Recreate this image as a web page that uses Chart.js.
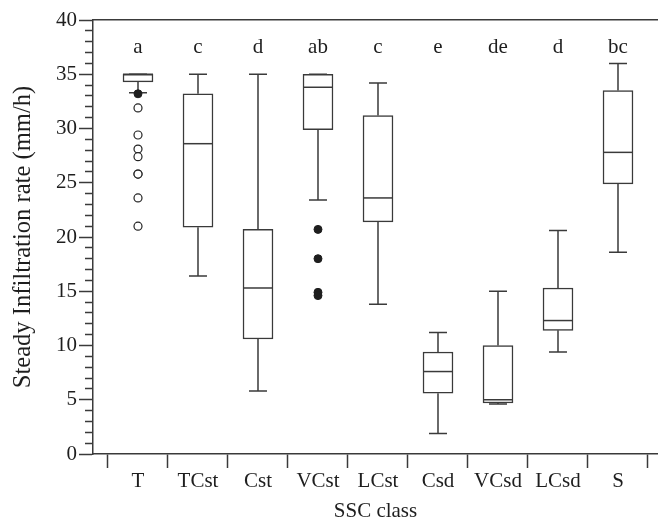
<!DOCTYPE html>
<html lang="en">

<head>
    <meta charset="UTF-8">
    <title>Steady infiltration rate by SSC class</title>
    <script src="https://cdn.jsdelivr.net/npm/chart.js"></script>
    <style>
        html, body { margin: 0; padding: 0; background: #fff; overflow: hidden; }
    </style>
</head>

<body>
    <canvas id="boxChart" width="658" height="521"></canvas>

    <script>
        // SSC classes along the x axis
        const categories = ['T', 'TCst', 'Cst', 'VCst', 'LCst', 'Csd', 'VCsd', 'LCsd', 'S'];

        // Box plot statistics (mm/h)
        const whiskerLow = [33.3, 16.4, 5.8, 23.4, 13.8, 1.9, 4.6, 9.4, 18.6];
        const q1 = [34.3, 20.9, 10.6, 29.9, 21.4, 5.6, 4.7, 11.4, 24.9];
        const median = [35.0, 28.6, 15.3, 33.8, 23.6, 7.6, 5.0, 12.3, 27.8];
        const q3 = [35.0, 33.2, 20.7, 35.0, 31.2, 9.4, 10.0, 15.3, 33.5];
        const whiskerHigh = [35.0, 35.0, 35.0, 35.0, 34.2, 11.2, 15.0, 20.6, 36.0];

        // Significance letters above each box
        const groupLetters = ['a', 'c', 'd', 'ab', 'c', 'e', 'de', 'd', 'bc'];

        // Outliers (open = outlier, filled = extreme)
        const tOutliersOpen = [31.9, 29.4, 28.1, 27.4, 25.8, 25.8, 23.6, 21.0];
        const tOutliersFilled = [33.2];
        const vcstOutliersFilled = [20.7, 18.0, 14.9, 14.6];

        // y axis ticks: every 1 mm/h, labelled every 5
        const yTicks = Array.from({ length: 41 }, (_, i) => i);

        const lineColor = '#3a3a3a';
        const textColor = '#1e1e1e';
        const serif = 'Liberation Serif';

        function pointsFor(cls, values) {
            const idx = categories.indexOf(cls);
            return values.map(v => ({ x: idx, y: v }));
        }

        // Whiskers, caps, medians and letters drawn against the chart scales
        const boxExtras = {
            id: 'boxExtras',
            beforeDatasetsDraw(chart) {
                const { ctx, scales: { x, y } } = chart;
                ctx.save();
                ctx.strokeStyle = lineColor;
                ctx.lineWidth = 1.5;
                categories.forEach((c, i) => {
                    const px = x.getPixelForValue(i);
                    ctx.beginPath();
                    ctx.moveTo(px, y.getPixelForValue(q3[i]));
                    ctx.lineTo(px, y.getPixelForValue(whiskerHigh[i]));
                    ctx.moveTo(px, y.getPixelForValue(q1[i]));
                    ctx.lineTo(px, y.getPixelForValue(whiskerLow[i]));
                    [whiskerHigh[i], whiskerLow[i]].forEach(v => {
                        const py = y.getPixelForValue(v);
                        ctx.moveTo(px - 9, py);
                        ctx.lineTo(px + 9, py);
                    });
                    ctx.stroke();
                });
                ctx.restore();
            },
            afterDatasetsDraw(chart) {
                const { ctx, scales: { x, y } } = chart;
                ctx.save();
                ctx.strokeStyle = lineColor;
                ctx.lineWidth = 1.5;
                categories.forEach((c, i) => {
                    const px = x.getPixelForValue(i);
                    const py = y.getPixelForValue(median[i]);
                    ctx.beginPath();
                    ctx.moveTo(px - 15, py);
                    ctx.lineTo(px + 15, py);
                    ctx.stroke();
                });
                ctx.fillStyle = textColor;
                ctx.font = '21px "' + serif + '"';
                ctx.textAlign = 'center';
                ctx.textBaseline = 'middle';
                groupLetters.forEach((t, i) => {
                    ctx.fillText(t, x.getPixelForValue(i), y.getPixelForValue(37.5));
                });
                ctx.restore();
            }
        };

        new Chart(document.getElementById('boxChart'), {
            type: 'bar',
            data: {
                datasets: [{
                    type: 'bar',
                    data: categories.map((c, i) => ({ x: i, y: [q1[i], q3[i]] })),
                    backgroundColor: '#ffffff',
                    borderColor: lineColor,
                    borderWidth: 1.5,
                    borderSkipped: false,
                    barThickness: 30,
                    xAxisID: 'x',
                    yAxisID: 'y',
                    order: 2
                }, {
                    type: 'scatter',
                    data: pointsFor('T', tOutliersOpen),
                    pointStyle: 'circle',
                    pointRadius: 4,
                    backgroundColor: '#ffffff',
                    borderColor: '#222',
                    borderWidth: 1.2,
                    xAxisID: 'x',
                    yAxisID: 'y',
                    order: 1
                }, {
                    type: 'scatter',
                    data: pointsFor('T', tOutliersFilled).concat(pointsFor('VCst', vcstOutliersFilled)),
                    pointStyle: 'circle',
                    pointRadius: 4,
                    backgroundColor: '#1e1e1e',
                    borderColor: '#1e1e1e',
                    borderWidth: 1,
                    xAxisID: 'x',
                    yAxisID: 'y',
                    order: 1
                }]
            },
            options: {
                responsive: false,
                animation: false,
                // points must not push the plot area in from the right edge
                layout: { padding: 0, autoPadding: false },
                plugins: {
                    legend: { display: false },
                    tooltip: { enabled: false }
                },
                scales: {
                    x: {
                        type: 'linear',
                        position: 'bottom',
                        offset: false,
                        min: -0.75,
                        max: 8.6667,
                        afterBuildTicks: (scale) => {
                            scale.ticks = categories.map((c, i) => ({ value: i }));
                        },
                        afterFit: (scale) => {
                            scale.height = 67;
                            scale.paddingLeft = 0;
                            scale.paddingRight = 0;
                        },
                        border: { display: true, color: lineColor, width: 1.5 },
                        grid: {
                            offset: true,
                            drawOnChartArea: false,
                            drawTicks: true,
                            tickLength: 14,
                            tickColor: lineColor,
                            tickWidth: 1.5
                        },
                        ticks: {
                            autoSkip: false,
                            maxRotation: 0,
                            padding: 1,
                            color: textColor,
                            font: { family: serif, size: 21 },
                            callback: (v) => categories[v]
                        },
                        title: {
                            display: true,
                            text: 'SSC class',
                            color: textColor,
                            font: { family: serif, size: 21 },
                            padding: { top: 0, bottom: -3.5 }
                        }
                    },
                    xTop: {
                        type: 'linear',
                        position: 'top',
                        display: true,
                        offset: false,
                        afterFit: (scale) => {
                            scale.height = 20;
                            scale.paddingLeft = 0;
                            scale.paddingRight = 0;
                        },
                        border: { display: true, color: lineColor, width: 1.5 },
                        grid: { drawOnChartArea: false, drawTicks: false },
                        ticks: { display: false }
                    },
                    y: {
                        type: 'linear',
                        position: 'left',
                        min: 0,
                        max: 40,
                        afterBuildTicks: (scale) => {
                            scale.ticks = yTicks.map(v => ({ value: v }));
                        },
                        afterFit: (scale) => { scale.width = 93; },
                        border: { display: true, color: lineColor, width: 1.5 },
                        grid: {
                            drawOnChartArea: false,
                            drawTicks: true,
                            tickLength: 14,
                            tickColor: lineColor,
                            tickWidth: 1.5,
                            // minor ticks are shorter: hide the outer part with a dash
                            tickBorderDash: (ctx) => (ctx.tick && ctx.tick.value % 5 !== 0) ? [0, 6, 8, 0] : []
                        },
                        ticks: {
                            autoSkip: false,
                            padding: 2,
                            color: textColor,
                            font: { family: serif, size: 21 },
                            callback: (v) => (v % 5 === 0 ? v : '')
                        },
                        title: {
                            display: true,
                            text: 'Steady Infiltration rate (mm/h)',
                            color: textColor,
                            font: { family: serif, size: 24.6 },
                            padding: { top: 9, bottom: 0 }
                        }
                    }
                }
            },
            plugins: [boxExtras]
        });
    </script>
</body>

</html>
